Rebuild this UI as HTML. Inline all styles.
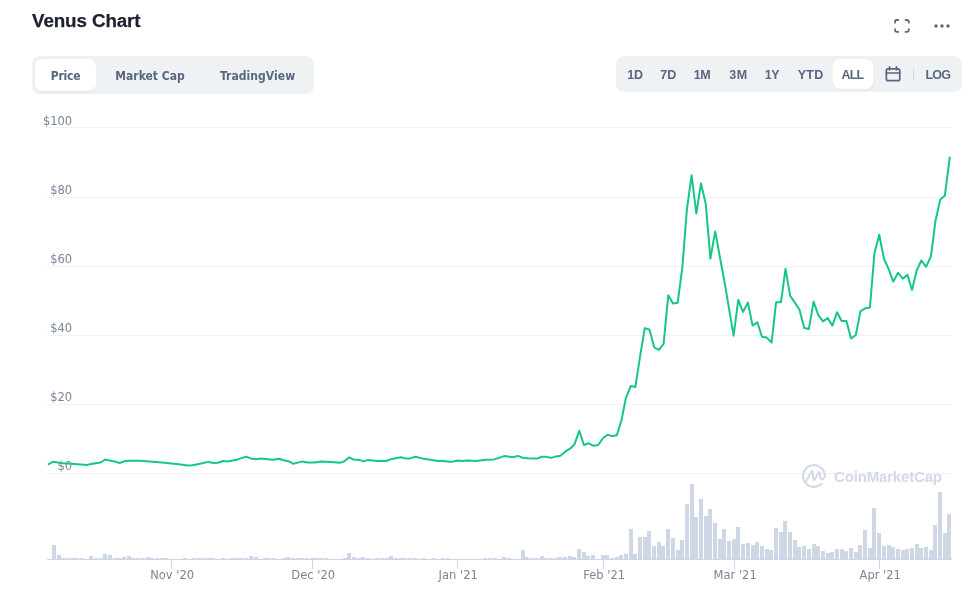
<!DOCTYPE html>
<html lang="en">
<head>
<meta charset="utf-8">
<title>Venus Chart</title>
<style>
html,body{margin:0;padding:0;background:#fff;}
body{width:977px;height:597px;position:relative;overflow:hidden;font-family:"Liberation Sans",Arial,sans-serif;color:#58667e;}
.title{position:absolute;left:32px;top:9px;margin:0;font-size:18.8px;line-height:24px;font-weight:700;color:#1c2030;letter-spacing:-0.1px;-webkit-text-stroke:0.25px #1c2030;}
.tabs{position:absolute;left:32px;top:56px;width:282px;height:38px;background:#eff2f5;border-radius:8px;}
.tabs span{position:absolute;top:3px;height:32px;line-height:35px;text-align:center;font-family:"DejaVu Sans Condensed","DejaVu Sans","Liberation Sans",sans-serif;font-weight:700;font-size:12px;letter-spacing:-0.25px;color:#58667e;white-space:nowrap;}
.tabs .on{background:#fff;border-radius:7px;box-shadow:0 1px 2px rgba(128,138,157,.12);}
.range{position:absolute;left:616px;top:56px;width:346px;height:36px;background:#eff2f5;border-radius:8px;}
.range span{position:absolute;top:3px;height:30px;line-height:32px;text-align:center;font-size:12.5px;letter-spacing:-0.35px;font-weight:700;color:#58667e;white-space:nowrap;transform:translateX(-50%);}
.range .on{background:#fff;border-radius:8px;width:41px;box-shadow:0 1px 2px rgba(128,138,157,.12);}
.range i{position:absolute;left:297px;top:12px;width:1px;height:13px;background:#cfd6e4;}
svg{position:absolute;left:0;top:0;}
.yl text{font-family:"DejaVu Sans","Liberation Sans",sans-serif;font-size:11.5px;fill:#7a859b;text-anchor:end;}
.xl text{font-family:"DejaVu Sans","Liberation Sans",sans-serif;font-size:11.5px;fill:#7a859b;text-anchor:middle;}
.wm{font-family:"Liberation Sans",Arial,sans-serif;font-weight:700;font-size:15px;letter-spacing:-0.17px;fill:#d3d9e6;}
</style>
</head>
<body>
<h2 class="title">Venus Chart</h2>
<div class="tabs">
<span class="on" style="left:3px;width:61px;">Price</span>
<span style="left:83px;width:70px;letter-spacing:0;">Market Cap</span>
<span style="left:188px;width:75px;letter-spacing:0.05px;">TradingView</span>
</div>
<div class="range">
<span style="left:19px;">1D</span>
<span style="left:52.3px;letter-spacing:0.1px;">7D</span>
<span style="left:86px;">1M</span>
<span style="left:122.5px;letter-spacing:0.6px;">3M</span>
<span style="left:156px;">1Y</span>
<span style="left:194.6px;letter-spacing:0.3px;">YTD</span>
<span class="on" style="left:236.5px;letter-spacing:-0.8px;">ALL</span>
<i></i>
<span style="left:321.8px;letter-spacing:-0.8px;">LOG</span>
</div>
<svg width="977" height="597" viewBox="0 0 977 597">
<!-- top-right icons -->
<g fill="none" stroke="#58667e" stroke-width="1.8" stroke-linecap="round" stroke-linejoin="round">
<path d="M895 22.7V21.8A1.8 1.8 0 0 1 896.8 20H898.2"/>
<path d="M905.6 20H907A1.8 1.8 0 0 1 908.8 21.8V22.7"/>
<path d="M908.8 29.2V30.1A1.8 1.8 0 0 1 907 31.9H905.6"/>
<path d="M898.2 31.9H896.8A1.8 1.8 0 0 1 895 30.1V29.2"/>
</g>
<g fill="#58667e"><circle cx="936" cy="26" r="1.7"/><circle cx="942" cy="26" r="1.7"/><circle cx="948" cy="26" r="1.7"/></g>
<!-- calendar icon -->
<g fill="none" stroke="#58667e" stroke-width="1.7" stroke-linecap="round" stroke-linejoin="round">
<rect x="886.35" y="68.8" width="13.4" height="11.9" rx="1.7"/>
<path d="M886.35 73H899.75M889.6 66.9V69.8M896.45 66.9V69.8"/>
</g>
<!-- grid -->
<g stroke="#eef1f5" stroke-width="1" fill="none" shape-rendering="crispEdges"><path d="M47 127.5H952"/><path d="M47 197.5H952"/><path d="M47 266.5H952"/><path d="M47 335.5H952"/><path d="M47 404.5H952"/><path d="M47 473.5H952"/></g>
<g class="yl"><text x="72.2" y="124.8">$100</text><text x="72.2" y="193.8">$80</text><text x="72.2" y="262.8">$60</text><text x="72.2" y="331.8">$40</text><text x="72.2" y="400.8">$20</text><text x="72.2" y="469.8">$0</text></g>
<!-- volume -->
<g fill="#cfd6e4" shape-rendering="crispEdges"><rect x="52" y="545" width="4" height="14"/><rect x="57" y="555" width="4" height="4"/><rect x="61" y="558" width="4" height="1"/><rect x="66" y="558" width="4" height="1"/><rect x="71" y="558" width="4" height="1"/><rect x="75" y="558" width="4" height="1"/><rect x="80" y="558" width="4" height="1"/><rect x="89" y="556" width="4" height="3"/><rect x="94" y="558" width="4" height="1"/><rect x="99" y="558" width="4" height="1"/><rect x="103" y="554" width="4" height="5"/><rect x="108" y="555" width="4" height="4"/><rect x="113" y="558" width="4" height="1"/><rect x="117" y="558" width="4" height="1"/><rect x="122" y="557" width="4" height="2"/><rect x="127" y="556" width="4" height="3"/><rect x="131" y="558" width="4" height="1"/><rect x="136" y="558" width="4" height="1"/><rect x="141" y="558" width="4" height="1"/><rect x="146" y="557" width="4" height="2"/><rect x="150" y="558" width="4" height="1"/><rect x="155" y="558" width="4" height="1"/><rect x="160" y="558" width="4" height="1"/><rect x="164" y="558" width="4" height="1"/><rect x="183" y="558" width="4" height="1"/><rect x="192" y="558" width="4" height="1"/><rect x="197" y="558" width="4" height="1"/><rect x="202" y="558" width="4" height="1"/><rect x="207" y="558" width="4" height="1"/><rect x="211" y="558" width="4" height="1"/><rect x="221" y="558" width="4" height="1"/><rect x="230" y="558" width="4" height="1"/><rect x="235" y="558" width="4" height="1"/><rect x="239" y="558" width="4" height="1"/><rect x="244" y="558" width="4" height="1"/><rect x="249" y="556" width="4" height="3"/><rect x="254" y="557" width="4" height="2"/><rect x="263" y="558" width="4" height="1"/><rect x="267" y="558" width="4" height="1"/><rect x="272" y="558" width="4" height="1"/><rect x="282" y="558" width="4" height="1"/><rect x="286" y="557" width="4" height="2"/><rect x="291" y="558" width="4" height="1"/><rect x="296" y="558" width="4" height="1"/><rect x="300" y="558" width="4" height="1"/><rect x="305" y="558" width="4" height="1"/><rect x="310" y="558" width="4" height="1"/><rect x="314" y="558" width="4" height="1"/><rect x="319" y="558" width="4" height="1"/><rect x="324" y="558" width="4" height="1"/><rect x="343" y="558" width="4" height="1"/><rect x="347" y="553" width="4" height="6"/><rect x="352" y="557" width="4" height="2"/><rect x="357" y="558" width="4" height="1"/><rect x="361" y="557" width="4" height="2"/><rect x="366" y="558" width="4" height="1"/><rect x="375" y="558" width="4" height="1"/><rect x="380" y="558" width="4" height="1"/><rect x="385" y="558" width="4" height="1"/><rect x="389" y="556" width="4" height="3"/><rect x="394" y="558" width="4" height="1"/><rect x="399" y="558" width="4" height="1"/><rect x="403" y="558" width="4" height="1"/><rect x="408" y="558" width="4" height="1"/><rect x="413" y="558" width="4" height="1"/><rect x="422" y="558" width="4" height="1"/><rect x="432" y="558" width="4" height="1"/><rect x="441" y="558" width="4" height="1"/><rect x="446" y="558" width="4" height="1"/><rect x="483" y="558" width="4" height="1"/><rect x="488" y="558" width="4" height="1"/><rect x="493" y="558" width="4" height="1"/><rect x="502" y="557" width="4" height="2"/><rect x="507" y="558" width="4" height="1"/><rect x="521" y="550" width="4" height="9"/><rect x="525" y="557" width="4" height="2"/><rect x="530" y="558" width="4" height="1"/><rect x="535" y="558" width="4" height="1"/><rect x="540" y="556" width="4" height="3"/><rect x="544" y="558" width="4" height="1"/><rect x="549" y="558" width="4" height="1"/><rect x="554" y="558" width="4" height="1"/><rect x="558" y="557" width="4" height="2"/><rect x="563" y="557" width="4" height="2"/><rect x="568" y="556" width="4" height="3"/><rect x="572" y="557" width="4" height="2"/><rect x="577" y="549" width="4" height="10"/><rect x="582" y="552" width="4" height="7"/><rect x="586" y="556" width="4" height="3"/><rect x="591" y="555" width="4" height="4"/><rect x="601" y="555" width="4" height="4"/><rect x="605" y="555" width="4" height="4"/><rect x="610" y="558" width="4" height="1"/><rect x="615" y="557" width="4" height="2"/><rect x="619" y="555" width="4" height="4"/><rect x="624" y="554" width="4" height="5"/><rect x="629" y="529" width="4" height="30"/><rect x="633" y="554" width="4" height="5"/><rect x="638" y="537" width="4" height="22"/><rect x="643" y="537" width="4" height="22"/><rect x="647" y="531" width="4" height="28"/><rect x="652" y="546" width="4" height="13"/><rect x="657" y="542" width="4" height="17"/><rect x="661" y="546" width="4" height="13"/><rect x="666" y="529" width="4" height="30"/><rect x="671" y="538" width="4" height="21"/><rect x="676" y="550" width="4" height="9"/><rect x="680" y="540" width="4" height="19"/><rect x="685" y="504" width="4" height="55"/><rect x="690" y="484" width="4" height="75"/><rect x="694" y="517" width="4" height="42"/><rect x="699" y="499" width="4" height="60"/><rect x="704" y="516" width="4" height="43"/><rect x="708" y="509" width="4" height="50"/><rect x="713" y="523" width="4" height="36"/><rect x="718" y="539" width="4" height="20"/><rect x="722" y="529" width="4" height="30"/><rect x="727" y="541" width="4" height="18"/><rect x="732" y="539" width="4" height="20"/><rect x="736" y="527" width="4" height="32"/><rect x="741" y="544" width="4" height="15"/><rect x="746" y="543" width="4" height="16"/><rect x="751" y="545" width="4" height="14"/><rect x="755" y="542" width="4" height="17"/><rect x="760" y="546" width="4" height="13"/><rect x="765" y="549" width="4" height="10"/><rect x="769" y="550" width="4" height="9"/><rect x="774" y="528" width="4" height="31"/><rect x="779" y="532" width="4" height="27"/><rect x="783" y="521" width="4" height="38"/><rect x="788" y="532" width="4" height="27"/><rect x="793" y="540" width="4" height="19"/><rect x="797" y="547" width="4" height="12"/><rect x="802" y="546" width="4" height="13"/><rect x="807" y="549" width="4" height="10"/><rect x="812" y="544" width="4" height="15"/><rect x="816" y="546" width="4" height="13"/><rect x="821" y="551" width="4" height="8"/><rect x="826" y="553" width="4" height="6"/><rect x="830" y="552" width="4" height="7"/><rect x="835" y="549" width="4" height="10"/><rect x="840" y="549" width="4" height="10"/><rect x="844" y="551" width="4" height="8"/><rect x="849" y="548" width="4" height="11"/><rect x="854" y="552" width="4" height="7"/><rect x="858" y="545" width="4" height="14"/><rect x="863" y="530" width="4" height="29"/><rect x="868" y="548" width="4" height="11"/><rect x="872" y="508" width="4" height="51"/><rect x="877" y="533" width="4" height="26"/><rect x="882" y="546" width="4" height="13"/><rect x="887" y="545" width="4" height="14"/><rect x="891" y="547" width="4" height="12"/><rect x="896" y="549" width="4" height="10"/><rect x="901" y="550" width="4" height="9"/><rect x="905" y="549" width="4" height="10"/><rect x="910" y="548" width="4" height="11"/><rect x="915" y="544" width="4" height="15"/><rect x="919" y="548" width="4" height="11"/><rect x="924" y="547" width="4" height="12"/><rect x="929" y="550" width="4" height="9"/><rect x="933" y="525" width="4" height="34"/><rect x="938" y="492" width="4" height="67"/><rect x="943" y="533" width="4" height="26"/><rect x="947" y="514" width="4" height="45"/></g>
<g stroke="#ccd6eb" stroke-width="1" fill="none" shape-rendering="crispEdges"><path d="M47 559.5H952"/><path d="M171.5 559V569"/><path d="M312.5 559V569"/><path d="M457.5 559V569"/><path d="M603.5 559V569"/><path d="M734.5 559V569"/><path d="M879.5 559V569"/></g>
<g class="xl"><text x="172.2" y="578.6">Nov '20</text><text x="313.2" y="578.6">Dec '20</text><text x="458.2" y="578.6">Jan '21</text><text x="604.2" y="578.6">Feb '21</text><text x="735.2" y="578.6">Mar '21</text><text x="880.2" y="578.6">Apr '21</text></g>
<!-- watermark -->
<g fill="none" stroke="#d3d9e6" stroke-width="2.1" stroke-linecap="round" stroke-linejoin="round">
<path d="M821.4 483.9A10.9 10.9 0 1 1 824.85 475.9"/>
<path d="M805.8 481.8L811.3 472C811.9 470.8 812.6 470.9 812.8 472.2L813.3 478.8C813.4 480.3 814.1 480.4 814.8 479.2L818.3 473C819 471.8 819.7 472 819.8 473.3L820.1 477C820.3 479.2 821.6 479.8 822.9 479C824.3 478.2 824.85 477 824.85 475.9"/>
</g>
<text class="wm" x="834" y="481.7">CoinMarketCap</text>
<!-- price line -->
<polyline fill="none" stroke="#16c784" stroke-width="2" stroke-linejoin="round" stroke-linecap="round" points="48.7,464.2 53.4,461.7 58.1,462.6 62.8,463.2 67.5,463.6 72.2,463.8 76.9,464.2 81.6,464.6 86.3,465.1 91,464 95.7,463.2 100.4,462.5 105.3,459.5 109.8,460.6 114.5,461.4 119.6,463 124.6,461.1 129.3,460.7 134,460.7 138.7,460.8 143.2,460.9 152.6,461.7 162,462.5 171.4,463.4 180.8,464.5 187.4,465.5 192,465.2 196.8,464.4 200,463.8 208.2,461.9 213.9,463 218,462.7 223,461 227.8,461.5 237.7,459.4 246.2,456.6 250.8,458.4 255.7,459.2 260.6,458.4 265.5,459.1 272.9,459.7 279.1,458.8 283.5,460.2 289.3,461.4 293.3,463.8 302.4,461.4 307.3,462.4 314.6,462.4 321.2,461.4 331,461.9 340,462.7 344.1,461.4 349.4,457.3 353.1,459.4 360,460.1 363.3,461.4 367.4,460.1 378,461 386.2,461 391.9,458.9 400.9,457.3 405.9,458.6 410,458.4 415.2,456.8 422.2,458.4 430.4,459.7 437.8,460.9 443.5,460.9 449.3,461.7 453.3,461.5 458.3,460.6 462.4,461 467.3,460.4 476.3,460.9 486.1,459.7 494.3,459.4 504.1,456.1 510.7,456.9 514.2,457 518,455.9 522.6,457.7 527.6,458.2 536.8,458.6 541.8,456.7 546,456.7 551,457.9 556.1,456.4 560.3,455.7 565.3,451.7 570,448.7 574.5,444.2 579.3,430.8 583.9,445 588.7,443.3 593.5,445.8 598.2,445 602.9,438.3 607.6,434.8 612.2,436.1 616.8,435.3 621.5,420.2 625.9,397.8 630.8,386.1 635.4,386.9 640.1,356.2 644.8,328.1 649.5,329.7 654.2,347.3 658.9,349.9 663.6,343.8 668.3,295.2 673,303.4 677.7,302.7 682.4,266.8 686.9,209.3 691.6,175.3 696.3,213.5 701,183.5 705.7,203.4 710.4,258.6 715.2,231.4 720,257.6 724.6,282.2 729.1,309.2 733.6,335.7 738.3,299.8 743,312 747.9,302.6 752.6,325.6 757.3,322.3 762,336.7 766.7,337.6 771.6,342.5 776.1,302.2 781,302.2 785.5,268.8 790.2,295.8 794.8,302.6 799.5,309.7 804.2,328 808.9,328.9 813.6,301.7 818.3,315.1 823,321.4 827.7,318.1 832.4,325.6 837,312.3 841.7,320.9 846.4,320.9 851.1,338.5 855.8,335 860.5,311.1 865.2,308.3 869.9,307.5 874.5,253 879.2,234.8 884,259 888.5,268.6 893.3,281.6 898.1,272.8 902.7,278.6 907.5,274.9 912,290 916.8,270.1 921.3,260.5 926.1,266.8 931,256 935.5,220.7 940.3,199.6 944.8,195.7 949.8,157.4"/>
</svg>
</body>
</html>
